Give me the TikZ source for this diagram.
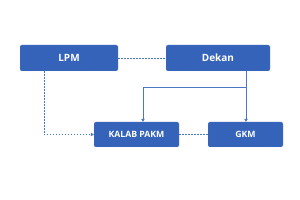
\documentclass[tikz,border=0pt]{standalone}
\usepackage{fontspec}
\setmainfont{Open Sans}
\usetikzlibrary{arrows.meta}
\definecolor{boxblue}{HTML}{3563B9}
\definecolor{lineblue}{HTML}{4A78C6}
\tikzset{
  unitbox/.style={draw=boxblue!60, densely dotted, fill=boxblue, rounded corners=2pt, text=white, font=\bfseries, inner sep=0pt},
  link/.style={lineblue, line width=0.6pt},
  dashlink/.style={lineblue, line width=0.6pt, dash pattern=on 1.5pt off 1.5pt},
  tip/.style={-{Triangle[length=3pt,width=3.5pt]}}
}
\begin{document}
\begin{tikzpicture}[x=1pt,y=-1pt]
\useasboundingbox (0,0) rectangle (300,200);
\node[unitbox, minimum width=98pt, minimum height=26pt, font=\bfseries\fontsize{10}{12}\selectfont] (lpm) at (69,58) {LPM};
\node[unitbox, minimum width=104pt, minimum height=26pt, font=\bfseries\fontsize{10}{12}\selectfont] (dekan) at (218,58) {Dekan};
\node[unitbox, minimum width=85pt, minimum height=25pt, font=\bfseries\fontsize{8.7}{10}\selectfont] (kalab) at (136.5,134.5) {KALAB PAKM};
\node[unitbox, minimum width=75pt, minimum height=25pt, font=\bfseries\fontsize{8.7}{10}\selectfont] (gkm) at (245.5,134.5) {GKM};
\coordinate (split) at (246,87);
\draw[dashlink] (lpm.east) -- (dekan.west);
\draw[dashlink] (kalab.east) -- (gkm.west);
\draw[dashlink, tip] (lpm.south -| 44,0) |- (kalab.west);
\draw[link, tip] (dekan.south -| split) -- (gkm.north -| split);
\draw[link, tip] (split) -| (kalab.north -| 143,0);
\end{tikzpicture}
\end{document}
